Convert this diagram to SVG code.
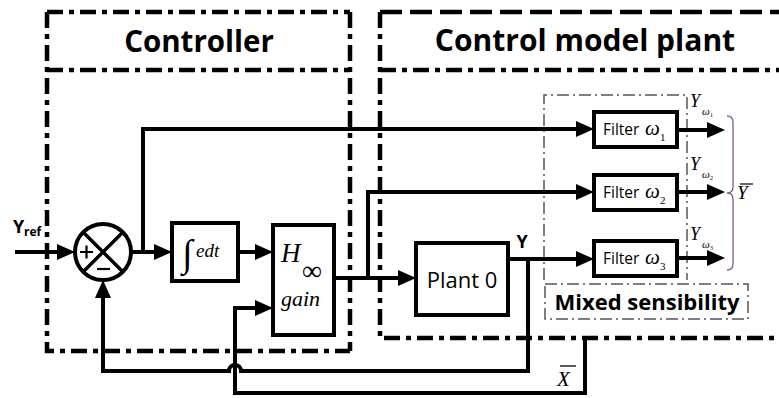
<svg xmlns="http://www.w3.org/2000/svg" width="779" height="398" viewBox="0 0 779 398">
<style>
.frame{fill:none;stroke:#000;stroke-width:4.5}
.dd{stroke-dasharray:16 6 5 6}
.dash{stroke-dasharray:22 8}
.thin{fill:none;stroke:#555;stroke-width:1.5;stroke-dasharray:12 4 2 4}
.box{fill:#fff;stroke:#000;stroke-width:4}
.ln{fill:none;stroke:#000;stroke-width:4}
.arr{marker-end:url(#ah)}
.ttl{font-family:"Open Sans","Liberation Sans",sans-serif;font-weight:bold;fill:#000}
.sans{font-family:"Open Sans","Liberation Sans",sans-serif;fill:#000}
.math{font-family:"Liberation Serif","DejaVu Serif",serif;font-style:italic;fill:#000}
.rom{font-family:"Liberation Serif","DejaVu Serif",serif;fill:#000}
</style>
<defs>
<marker id="ah" markerUnits="userSpaceOnUse" markerWidth="18" markerHeight="16" refX="10" refY="8" orient="auto">
<path d="M0,0 L18,8 L0,16 z" fill="#000"/>
</marker>
</defs>
<rect width="779" height="398" fill="#fff"/>

<g id="controller-frame">
<path class="frame dd" d="M47,12 H350"/>
<path class="frame dd" d="M47,12 V351 H350"/>
<path class="frame dd" d="M350,12 V351"/>
<path class="frame dd" d="M47,70 H350"/>
<text class="ttl" x="199" y="52" font-size="29.5" text-anchor="middle">Controller</text>
</g>

<g id="plant-frame">
<path class="frame dash" d="M380,12 H779"/>
<path class="frame dd" d="M380,12 V338 H779"/>
<path class="frame dd" d="M380,70 H779"/>
<text class="ttl" x="585" y="51" font-size="30" text-anchor="middle">Control model plant</text>
</g>

<g id="mixed-sensibility">
<path class="thin" d="M544,280 V95 H687 V280"/>
<rect class="thin" x="545" y="284" width="203" height="35"/>
<text class="ttl" x="647" y="310" font-size="22" text-anchor="middle">Mixed sensibility</text>
</g>

<g id="connectors">
<path class="ln arr" d="M15,252 H67"/>
<path class="ln arr" d="M131,252 H164"/>
<path class="ln arr" d="M143,252 V129 H586"/>
<path class="ln arr" d="M238,252 H265"/>
<path class="ln arr" d="M334,278 H408"/>
<path class="ln arr" d="M368,278 V192 H586"/>
<path class="ln arr" d="M508,259 H586"/>
<path class="ln arr" d="M528,259 V371 H241 A6,6 0 0 0 229,371 H103 V288"/>
<path class="ln arr" d="M585,338 V393 H235 V308 H265"/>
<path class="ln arr" d="M677,130 H717"/>
<path class="ln arr" d="M677,192 H717"/>
<path class="ln arr" d="M677,258 H717"/>
<path d="M727,116 Q733,116 733,122 V187 Q733,193 727,193 Q733,193 733,199 V264 Q733,270 727,270" fill="none" stroke="#7a5f86" stroke-width="1.3"/>
</g>

<g id="yref">
<text class="ttl" x="13" y="233" font-size="18">Y</text>
<text class="ttl" x="24" y="236" font-size="12">ref</text>
</g>

<g id="sum">
<circle cx="103" cy="252" r="28" fill="#fff" stroke="#000" stroke-width="4"/>
<path d="M83.2,232.2 L122.8,271.8 M122.8,232.2 L83.2,271.8" stroke="#000" stroke-width="3.5"/>
<path d="M80,252 H93 M86.5,245.5 V258.5" stroke="#000" stroke-width="2.2"/>
<path d="M97,269 H110" stroke="#000" stroke-width="2.2"/>
</g>

<g id="integrator">
<rect class="box" x="172" y="223" width="66" height="58" stroke-width="3.5"/>
<text class="rom" x="182" y="266" font-size="38">∫</text>
<text class="math" x="196" y="257" font-size="19">edt</text>
</g>

<g id="hinf">
<rect class="box" x="273" y="225" width="61" height="110" stroke-width="3.5"/>
<text class="math" x="281" y="262" font-size="27">H</text>
<text class="rom" x="302" y="280" font-size="28">∞</text>
<text class="math" x="281" y="306" font-size="22">gain</text>
</g>

<g id="plant">
<rect class="box" x="416" y="243" width="92" height="72"/>
<text class="sans" x="462" y="288" font-size="22" text-anchor="middle">Plant 0</text>
<text class="ttl" x="522" y="248" font-size="18" text-anchor="middle">Y</text>
</g>

<g id="filter1">
<rect class="box" x="594" y="112" width="83" height="35"/>
<text class="sans" x="603" y="135" font-size="15.5">Filter</text>
<text class="math" x="645" y="135" font-size="21">ω</text>
<text class="rom" x="660" y="141" font-size="11">1</text>
</g>
<g id="filter2">
<rect class="box" x="594" y="175" width="83" height="35"/>
<text class="sans" x="603" y="198" font-size="15.5">Filter</text>
<text class="math" x="645" y="198" font-size="21">ω</text>
<text class="rom" x="660" y="204" font-size="11">2</text>
</g>
<g id="filter3">
<rect class="box" x="594" y="241" width="83" height="35"/>
<text class="sans" x="603" y="264" font-size="15.5">Filter</text>
<text class="math" x="645" y="264" font-size="21">ω</text>
<text class="rom" x="660" y="270" font-size="11">3</text>
</g>

<g id="outputs">
<text class="math" x="690" y="107" font-size="18">Y</text>
<text class="math" x="702" y="115" font-size="11">ω</text>
<text class="rom" x="710" y="117" font-size="6">1</text>
<text class="math" x="690" y="170" font-size="18">Y</text>
<text class="math" x="702" y="178" font-size="11">ω</text>
<text class="rom" x="710" y="180" font-size="6">2</text>
<text class="math" x="690" y="240" font-size="18">Y</text>
<text class="math" x="702" y="248" font-size="11">ω</text>
<text class="rom" x="710" y="250" font-size="6">3</text>
<text class="math" x="737" y="199" font-size="19">Y</text>
<path d="M740,184 H753" stroke="#000" stroke-width="1.2"/>
</g>

<g id="xbar">
<text class="math" x="557" y="386" font-size="21">X</text>
<path d="M560,366 H576" stroke="#000" stroke-width="1.3"/>
</g>
</svg>
